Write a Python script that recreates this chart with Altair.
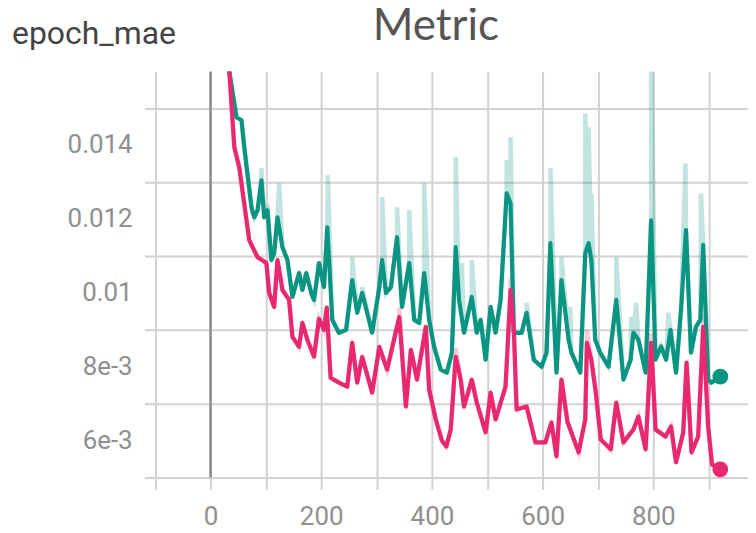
import altair as alt
import pandas as pd

# ---- data ----
teal_epoch = [25, 34, 47, 56, 61, 74, 79, 85, 92, 97, 103, 110, 115, 121, 130, 139, 148, 160, 166, 173,
              182, 187, 196, 205, 211, 220, 232, 245, 256, 265, 274, 292, 305, 310, 317, 326, 337, 346,
              359, 368, 377, 386, 395, 404, 416, 427, 436, 443, 449, 458, 472, 481, 488, 497, 506, 515,
              524, 535, 542, 548, 562, 571, 584, 598, 607, 614, 625, 634, 647, 652, 668, 677, 683, 688,
              695, 704, 719, 733, 746, 759, 764, 773, 786, 796, 804, 814, 823, 831, 841, 850, 859, 868,
              877, 885, 890, 899, 905, 921]
teal_value = [0.0182, 0.0160, 0.01476, 0.01468, 0.01395, 0.01232, 0.01205, 0.01224, 0.01305, 0.01205,
              0.01224, 0.01089, 0.01108, 0.01205, 0.01124, 0.01089, 0.00989, 0.01054, 0.01008, 0.01054,
              0.0100, 0.00981, 0.01081, 0.01016, 0.01178, 0.00927, 0.00892, 0.0090, 0.01035, 0.00946,
              0.0100, 0.00892, 0.01016, 0.01089, 0.0100, 0.01016, 0.01151, 0.00962, 0.01081, 0.00927,
              0.00919, 0.01054, 0.00927, 0.00854, 0.00792, 0.00784, 0.00838, 0.01124, 0.00981, 0.00892,
              0.00989, 0.00892, 0.00927, 0.00819, 0.00962, 0.00892, 0.00981, 0.0127, 0.01243, 0.00892,
              0.00892, 0.00946, 0.00819, 0.0080, 0.00838, 0.01135, 0.00784, 0.01035, 0.00873, 0.00838,
              0.00784, 0.01108, 0.01135, 0.01089, 0.00873, 0.00838, 0.0080, 0.00981, 0.00765, 0.00819,
              0.00892, 0.00873, 0.00784, 0.01197, 0.00819, 0.00855, 0.00819, 0.0090, 0.00784, 0.00954,
              0.0117, 0.00838, 0.00908, 0.00927, 0.0113, 0.00765, 0.00757, 0.00773]

pink_epoch = [25, 34, 43, 52, 70, 76, 85, 101, 106, 115, 121, 130, 142, 148, 160, 166, 175, 187, 196,
              205, 210, 217, 232, 247, 256, 265, 274, 292, 305, 319, 341, 353, 362, 373, 389, 395, 407,
              418, 426, 434, 443, 452, 458, 472, 481, 497, 506, 515, 533, 542, 548, 553, 571, 587, 605,
              616, 625, 634, 645, 665, 677, 680, 688, 696, 705, 723, 733, 746, 764, 773, 786, 796, 804,
              822, 832, 841, 854, 860, 869, 881, 890, 899, 906, 921]
pink_value = [0.0180, 0.0160, 0.01395, 0.0134, 0.01143, 0.01124, 0.01097, 0.01081, 0.0100, 0.00962,
              0.01089, 0.01008, 0.00981, 0.00881, 0.00854, 0.00919, 0.00873, 0.00827, 0.0093, 0.0090,
              0.0096, 0.0077, 0.00757, 0.00746, 0.00865, 0.00757, 0.00827, 0.0073, 0.00854, 0.00792,
              0.00935, 0.00692, 0.00846, 0.00765, 0.00908, 0.00738, 0.00657, 0.0060, 0.00584, 0.0063,
              0.00827, 0.00765, 0.00692, 0.00765, 0.00703, 0.00622, 0.0073, 0.00657, 0.00746, 0.01008,
              0.0090, 0.00684, 0.00692, 0.00595, 0.00595, 0.00649, 0.00557, 0.00765, 0.0065, 0.00568,
              0.00657, 0.00865, 0.00819, 0.0073, 0.00603, 0.00576, 0.00703, 0.00595, 0.0063, 0.00665,
              0.00576, 0.00865, 0.0063, 0.00611, 0.00638, 0.00541, 0.00622, 0.00811, 0.00568, 0.00611,
              0.00908, 0.00638, 0.00535, 0.00522]

# raw (unsmoothed) peaks shown as faint lines behind the smoothed ones
teal_raw_peak_epoch = [92, 124, 212, 256, 274, 310, 337, 359, 386, 443, 454, 472, 535, 542, 571, 614,
                       634, 650, 677, 683, 688, 733, 760, 769, 796, 827, 858, 886]
teal_raw_peak_value = [0.01338, 0.01297, 0.01319, 0.01097, 0.01016, 0.0126, 0.01232, 0.01224, 0.01297,
                       0.01368, 0.01081, 0.01089, 0.0136, 0.01422, 0.00973, 0.01338, 0.01097, 0.00962,
                       0.01486, 0.01449, 0.0127, 0.01097, 0.00935, 0.00973, 0.0168, 0.00946, 0.01351,
                       0.0127]
pink_raw_peak_epoch = [341, 443, 542, 680, 796, 890]
pink_raw_peak_value = [0.0096, 0.0085, 0.0104, 0.0090, 0.0089, 0.0094]

series_names = ["teal", "pink"]
series_colors = ["#0a9482", "#e8286f"]

x_grid_values = [-100, 0, 100, 200, 300, 400, 500, 600, 700, 800, 900]
x_label_values = [0, 200, 400, 600, 800]
y_grid_values = [0.005, 0.006, 0.007, 0.008, 0.009, 0.010, 0.011, 0.012, 0.013, 0.014, 0.015, 0.016]
y_label_values = [0.006, 0.008, 0.010, 0.012, 0.014]
y_label_texts = ["6e-3", "8e-3", "0.01", "0.012", "0.014"]

chart_title = "Metric"
metric_name = "epoch_mae"

# ---- build tables ----
rows = []
for e, v in zip(teal_epoch, teal_value):
    rows.append({"epoch": e, "value": v, "series": "teal"})
for e, v in zip(pink_epoch, pink_value):
    rows.append({"epoch": e, "value": v, "series": "pink"})
smooth = pd.DataFrame(rows)

raw_rows = []
for e, v in zip(teal_epoch, teal_value):
    raw_rows.append({"epoch": e, "value": v, "series": "teal", "order": 0})
for e, v in zip(teal_raw_peak_epoch, teal_raw_peak_value):
    raw_rows.append({"epoch": e, "value": v, "series": "teal", "order": 1})
for e, v in zip(pink_epoch, pink_value):
    raw_rows.append({"epoch": e, "value": v, "series": "pink", "order": 0})
for e, v in zip(pink_raw_peak_epoch, pink_raw_peak_value):
    raw_rows.append({"epoch": e, "value": v, "series": "pink", "order": 1})
raw = pd.DataFrame(raw_rows).sort_values(["series", "epoch", "order"]).reset_index(drop=True)
raw["idx"] = range(len(raw))

ends = pd.DataFrame([
    {"epoch": teal_epoch[-1], "value": teal_value[-1], "series": "teal"},
    {"epoch": pink_epoch[-1], "value": pink_value[-1], "series": "pink"},
])

ylab = pd.DataFrame({"value": y_label_values, "text": y_label_texts})

# ---- axes ----
x_expr = f"indexof({x_label_values}, datum.value) >= 0 ? datum.label : ''"

grid_color = "#d2d2d2"
x_enc = alt.X("epoch:Q",
              scale=alt.Scale(domain=[-119, 971], nice=False, zero=False),
              axis=alt.Axis(values=x_grid_values, labelExpr=x_expr, grid=True,
                            gridColor=grid_color, gridWidth=2, domain=False,
                            tickColor=grid_color, tickWidth=2, tickSize=12,
                            labelFont="Roboto", labelFontSize=26, labelColor="#8f8f8f",
                            labelPadding=14, labelOverlap=False, title=None))
y_enc = alt.Y("value:Q",
              scale=alt.Scale(domain=[0.005, 0.016], nice=False, zero=False),
              axis=alt.Axis(values=y_grid_values, labels=False, grid=True,
                            gridColor=grid_color, gridWidth=2, domain=False, ticks=False,
                            title=None))

color = alt.Color("series:N", scale=alt.Scale(domain=series_names, range=series_colors), legend=None)

zero_line = alt.Chart(pd.DataFrame({"epoch": [0]})).mark_rule(
    color="#8c8c8c", strokeWidth=2.5).encode(x=alt.X("epoch:Q"))

raw_lines = alt.Chart(raw).mark_line(strokeWidth=4.5, opacity=0.25, clip=True).encode(
    x=x_enc, y=y_enc, color=color, detail="series:N", order="idx:Q")

teal_line = alt.Chart(smooth).transform_filter("datum.series == 'teal'").mark_line(
    strokeWidth=4.2, clip=True, strokeJoin="round").encode(x="epoch:Q", y="value:Q", color=color)
pink_line = alt.Chart(smooth).transform_filter("datum.series == 'pink'").mark_line(
    strokeWidth=4.2, clip=True, strokeJoin="round").encode(x="epoch:Q", y="value:Q", color=color)

dots = alt.Chart(ends).mark_circle(size=250, opacity=1).encode(
    x="epoch:Q", y="value:Q", color=color)

y_labels = alt.Chart(ylab).mark_text(
    font="Roboto", fontSize=26, color="#8f8f8f", align="right", baseline="middle"
).encode(y="value:Q", text="text:N", x=alt.value(-12))

name_text = alt.Chart(pd.DataFrame({"t": [metric_name]})).mark_text(
    font="Roboto", fontSize=32, color="#444444", align="left", baseline="middle"
).encode(text="t:N", x=alt.value(-133), y=alt.value(-38))

title_text = alt.Chart(pd.DataFrame({"t": [chart_title]})).mark_text(
    font="Lato", fontSize=44, color="#555555", align="center", baseline="alphabetic"
).encode(text="t:N", x=alt.value(292), y=alt.value(-32))

chart = alt.layer(zero_line, raw_lines, teal_line, pink_line, dots,
                  y_labels, name_text, title_text).properties(
    width=605, height=407,
    autosize=alt.AutoSizeParams(type="none"),
    padding={"left": 137, "top": 63, "right": 0, "bottom": 52},
).configure_view(strokeWidth=0)

chart.save("out.html", embed_options={"renderer": "svg", "actions": False})
